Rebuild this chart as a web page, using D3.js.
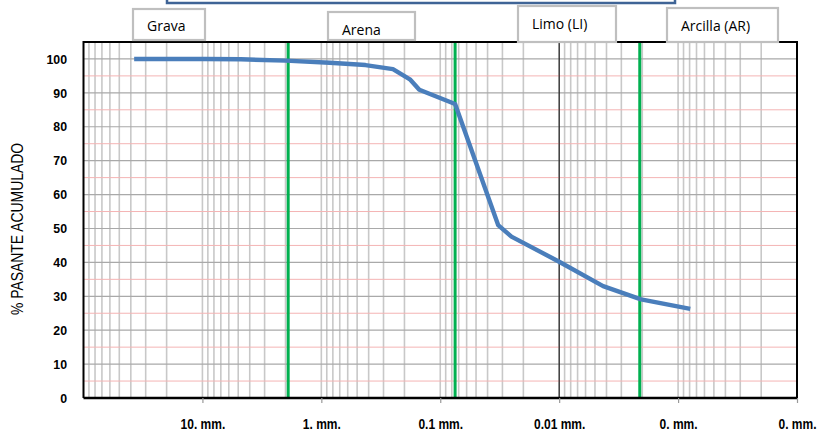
<!DOCTYPE html>
<html>
<head>
<meta charset="utf-8">
<script src="https://cdn.jsdelivr.net/npm/d3@7"></script>
<style>
  html, body { margin: 0; padding: 0; background: #fff; }
  svg { display: block; }
  .narrow { font-family: "Liberation Sans", Arial, sans-serif; }
</style>
</head>
<body>
<div id="chart"></div>
<script>
// sieve / hydrometer diameters (mm) and % passing
const diameters = [37.5, 25, 19, 12.5, 9.5, 4.75, 2.0, 0.85, 0.425, 0.25, 0.18, 0.15, 0.075,
                   0.0326, 0.0252, 0.01, 0.00427, 0.00205, 0.00079];
const passing   = [100, 100, 100, 100, 100, 99.9, 99.5, 98.9, 98.2, 97.0, 94.0, 90.9, 86.7,
                   51.0, 47.6, 40.2, 33.0, 29.1, 26.3];

// soil boundaries (mm)
const boundaries = [1.9, 0.075, 0.0021];

// soil class boxes
const classes = ["Grava", "Arena", "Limo (LI)", "Arcilla (AR)"];

// axis ticks
const xTicks = [10, 1, 0.1, 0.01, 0.001, 0.0001];
const xTickLabels = ["10. mm.", "1. mm.", "0.1 mm.", "0.01 mm.", "0. mm.", "0. mm."];
const yTicks = [0, 10, 20, 30, 40, 50, 60, 70, 80, 90, 100];

const width = 817, height = 432;
const plotLeft = 83.5, plotRight = 797, plotTop = 42, plotBottom = 398;

const svg = d3.select("#chart").append("svg")
    .attr("width", width)
    .attr("height", height)
    .attr("viewBox", [0, 0, width, height]);

const x = d3.scaleLog().domain([100, 0.0001]).range([plotLeft, plotRight]);
const y = d3.scaleLinear().domain([0, 105]).range([plotBottom, plotTop]);

// title frame (cut off at top)
svg.append("rect")
    .attr("x", 167).attr("y", -20)
    .attr("width", 508).attr("height", 23)
    .attr("fill", "#fff")
    .attr("stroke", "#3f6496")
    .attr("stroke-width", 2.5);

// vertical log grid
const minor = [];
for (let e = 1; e >= -4; e--) {
  for (let k = 1; k <= 9; k++) minor.push(k * Math.pow(10, e));
}
svg.append("g")
  .selectAll("line")
  .data(minor.filter(v => v < 100 && v > 0.0001))
  .join("line")
    .attr("x1", d => x(d)).attr("x2", d => x(d))
    .attr("y1", plotTop).attr("y2", plotBottom)
    .attr("stroke", "#c8c8c8")
    .attr("stroke-width", 1.6);

// horizontal grid: pink half-steps, grey every 10
svg.append("g")
  .selectAll("line")
  .data(d3.range(5, 105, 10))
  .join("line")
    .attr("x1", plotLeft).attr("x2", plotRight)
    .attr("y1", d => y(d)).attr("y2", d => y(d))
    .attr("stroke", "#f4b4b4")
    .attr("stroke-width", 1);

svg.append("g")
  .selectAll("line")
  .data(yTicks.slice(1))
  .join("line")
    .attr("x1", plotLeft).attr("x2", plotRight)
    .attr("y1", d => y(d)).attr("y2", d => y(d))
    .attr("stroke", "#a9a9a9")
    .attr("stroke-width", 1.2);

// thin black line at 0.01 mm
svg.append("line")
    .attr("x1", x(0.01)).attr("x2", x(0.01))
    .attr("y1", plotTop).attr("y2", plotBottom)
    .attr("stroke", "#000")
    .attr("stroke-width", 1);

// boundaries
svg.append("g")
  .selectAll("line")
  .data(boundaries)
  .join("line")
    .attr("x1", d => x(d)).attr("x2", d => x(d))
    .attr("y1", plotTop + 1).attr("y2", plotBottom)
    .attr("stroke", "#00b050")
    .attr("stroke-width", 3);

// grading curve
svg.append("path")
    .datum(diameters.map((d, i) => [d, passing[i]]))
    .attr("fill", "none")
    .attr("stroke", "#4a7ebb")
    .attr("stroke-width", 4.4)
    .attr("stroke-linejoin", "round")
    .attr("d", d3.line().x(d => x(d[0])).y(d => y(d[1])));

// frame
svg.append("path")
    .attr("d", `M${plotLeft},${plotBottom}V${plotTop}H${plotRight}V${plotBottom}`)
    .attr("fill", "none")
    .attr("stroke", "#000")
    .attr("stroke-width", 2);

// x axis
const xAxis = svg.append("g")
    .attr("transform", `translate(0,${plotBottom})`)
    .call(d3.axisBottom(x).tickValues(xTicks).tickSize(5).tickFormat((d, i) => xTickLabels[i]));
xAxis.select(".domain").attr("stroke", "#000").attr("stroke-width", 2.5).attr("d", `M${plotLeft},0H${plotRight}`);
xAxis.selectAll(".tick line").attr("stroke", "#999").attr("stroke-width", 1.2);
xAxis.selectAll(".tick text")
    .attr("class", "narrow")
    .attr("y", 0)
    .attr("dy", null)
    .attr("transform", "translate(0,31) scale(0.8,1)")
    .attr("font-size", 15)
    .attr("font-weight", "bold")
    .attr("fill", "#000");

// y axis labels
svg.append("g")
  .selectAll("text")
  .data(yTicks)
  .join("text")
    .attr("class", "narrow")
    .attr("transform", d => `translate(67,${y(d)}) scale(0.95,1)`)
    .attr("dy", "0.36em")
    .attr("text-anchor", "end")
    .attr("font-size", 13)
    .attr("font-weight", "bold")
    .text(d => d);

svg.append("text")
    .attr("class", "narrow")
    .attr("transform", `translate(23,229) rotate(-90) scale(0.87,1)`)
    .attr("text-anchor", "middle")
    .attr("font-size", 16)
    .text("% PASANTE ACUMULADO");

// soil class boxes (annotation layout)
const boxLayout = [
  { x: 133, y: 9, w: 72, h: 31, base: 31 },
  { x: 328, y: 12, w: 87, h: 28, base: 35 },
  { x: 518, y: 6, w: 98, h: 36, base: 28.5 },
  { x: 667, y: 8, w: 111, h: 34, base: 31 }
];
const box = svg.append("g")
  .selectAll("g")
  .data(classes)
  .join("g")
    .attr("transform", (d, i) => `translate(${boxLayout[i].x},${boxLayout[i].y})`);

box.append("rect")
    .attr("width", (d, i) => boxLayout[i].w)
    .attr("height", (d, i) => boxLayout[i].h)
    .attr("fill", "#fff")
    .attr("stroke", "#bfbfbf")
    .attr("stroke-width", 2.2);

box.append("text")
    .attr("x", 14)
    .attr("y", (d, i) => boxLayout[i].base - boxLayout[i].y)
    .attr("font-family", "'Open Sans', 'Noto Sans', sans-serif")
    .attr("font-size", 14)
    .attr("fill", "#000")
    .text(d => d);
</script>
</body>
</html>
